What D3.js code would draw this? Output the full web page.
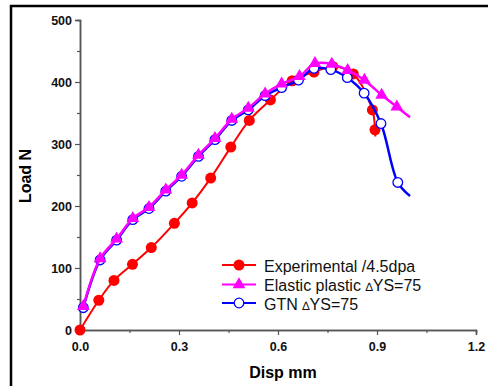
<!DOCTYPE html>
<html>
<head>
<meta charset="utf-8">
<script src="https://cdn.jsdelivr.net/npm/d3@7"></script>
<style>
  body { margin: 0; background: #fff; }
  svg { display: block; font-family: "Liberation Sans", Arial, sans-serif; }
</style>
</head>
<body>
<svg></svg>
<script>
// chart data (last point of each series is the line end, drawn without a marker)
const expX = [0, 0.057, 0.103, 0.159, 0.216, 0.286, 0.340, 0.396, 0.457, 0.513, 0.577, 0.643, 0.709, 0.766, 0.828, 0.886, 0.894, 0.895]
const expY = [0, 48, 80, 106, 133, 172, 205, 245, 295, 338, 371, 402, 416, 425, 413, 355, 323, 312]

const elasX = [0.01, 0.061, 0.111, 0.160, 0.209, 0.260, 0.308, 0.359, 0.409, 0.460, 0.510, 0.561, 0.611, 0.665, 0.712, 0.763, 0.811, 0.862, 0.914, 0.960, 1.0]
const elasY = [38, 115, 147, 180, 198, 226, 250, 282, 309, 340, 358, 381, 397, 409, 430, 429, 419, 403, 379, 360, 343]

const gtnX = [0.01, 0.061, 0.111, 0.160, 0.209, 0.260, 0.308, 0.359, 0.409, 0.460, 0.510, 0.561, 0.611, 0.662, 0.709, 0.760, 0.810, 0.861, 0.912, 0.963, 1.0]
const gtnY = [36, 113, 145, 178, 196, 224, 248, 280, 307, 338, 355, 378, 391, 403, 422, 420, 407, 382, 333, 238, 216]

const xTicks = [0, 0.3, 0.6, 0.9, 1.2]
const xMinor = [0.15, 0.45, 0.75, 1.05]
const yTicks = [0, 100, 200, 300, 400, 500]
const yMinor = [50, 150, 250, 350, 450]

const legendNames = ['Experimental /4.5dpa', 'Elastic plastic ', 'GTN ']

const width = 488
const height = 386
const plotLeft = 80
const plotRight = 476
const plotTop = 20
const plotBottom = 330

let svg = d3.select('svg').attr('width', width).attr('height', height)

let xScale = d3.scaleLinear().domain([0, 1.2]).range([plotLeft, plotRight])
let yScale = d3.scaleLinear().domain([0, 500]).range([plotBottom, plotTop])

// outer frame (only left and top edges fall inside the picture)
svg.append('path')
    .attr('d', 'M11,' + (height + 5) + 'V6H' + (width + 5))
    .attr('fill', 'none')
    .attr('stroke', '#000')
    .attr('stroke-width', 2.5)

function drawAxes() {
    let xAxis = d3.axisBottom(xScale).tickValues(xTicks).tickSize(5).tickFormat(d3.format('.1f'))
    let xAxisMinor = d3.axisBottom(xScale).tickValues(xMinor).tickSize(3).tickFormat('')
    let yAxis = d3.axisLeft(yScale).tickValues(yTicks).tickSize(5).tickFormat(d3.format('d'))
    let yAxisMinor = d3.axisLeft(yScale).tickValues(yMinor).tickSize(3).tickFormat('')

    let gx = svg.append('g').attr('transform', 'translate(0,' + plotBottom + ')')
    gx.call(xAxis)
    gx.append('g').call(xAxisMinor)
    let gy = svg.append('g').attr('transform', 'translate(' + plotLeft + ',0)')
    gy.call(yAxis)
    gy.append('g').call(yAxisMinor)

    svg.selectAll('.domain').attr('stroke', '#555').attr('stroke-width', 1.5)
    svg.selectAll('.tick line').attr('stroke', '#555').attr('stroke-width', 1.2)
    svg.selectAll('.tick text')
        .attr('font-family', '"Liberation Sans", Arial, sans-serif')
        .attr('font-size', 12.5)
        .attr('font-weight', 'bold')
        .attr('fill', '#111')
    gx.selectAll('.tick text').attr('dy', '1.05em')
    gy.selectAll('.tick text').attr('x', -8)

    svg.append('text')
        .attr('x', 283).attr('y', 378)
        .attr('text-anchor', 'middle')
        .attr('font-size', 16).attr('font-weight', 'bold')
        .text('Disp mm')
    svg.append('text')
        .attr('transform', 'translate(31,176) rotate(-90)')
        .attr('text-anchor', 'middle')
        .attr('font-size', 16).attr('font-weight', 'bold')
        .text('Load N')
}

function lineOf(xs, ys) {
    return d3.line()
        .x((d, i) => xScale(xs[i]))
        .y((d, i) => yScale(ys[i]))
        .curve(d3.curveCatmullRom)(xs)
}

const triangle = d3.symbol().type(d3.symbolTriangle).size(70)

function drawSeries() {
    // experimental
    svg.append('path').attr('d', lineOf(expX, expY))
        .attr('fill', 'none').attr('stroke', '#ff0000').attr('stroke-width', 2)
    svg.append('g').selectAll('circle')
        .data(expX.slice(0, -1))
        .enter()
        .append('circle')
        .attr('cx', (d, i) => xScale(expX[i]))
        .attr('cy', (d, i) => yScale(expY[i]))
        .attr('r', 5.5)
        .attr('fill', '#ff0000')

    // GTN
    svg.append('path').attr('d', lineOf(gtnX, gtnY))
        .attr('fill', 'none').attr('stroke', '#0000ff').attr('stroke-width', 2.5)
    svg.append('g').selectAll('circle')
        .data(gtnX.slice(0, -1))
        .enter()
        .append('circle')
        .attr('cx', (d, i) => xScale(gtnX[i]))
        .attr('cy', (d, i) => yScale(gtnY[i]))
        .attr('r', 4.8)
        .attr('fill', '#fff')
        .attr('stroke', '#0000ff')
        .attr('stroke-width', 1.3)

    // elastic plastic
    svg.append('path').attr('d', lineOf(elasX, elasY))
        .attr('fill', 'none').attr('stroke', '#ff00ff').attr('stroke-width', 2.5)
    svg.append('g').selectAll('path')
        .data(elasX.slice(0, -1))
        .enter()
        .append('path')
        .attr('d', triangle)
        .attr('transform', (d, i) => 'translate(' + xScale(elasX[i]) + ',' + yScale(elasY[i]) + ')')
        .attr('fill', '#ff00ff')
}

function drawLegend() {
    const colors = ['#ff0000', '#ff00ff', '#0000ff']
    const rowY = [265, 284.5, 303]
    let g = svg.append('g')
    legendNames.forEach((name, i) => {
        g.append('line')
            .attr('x1', 222).attr('x2', 256)
            .attr('y1', rowY[i]).attr('y2', rowY[i])
            .attr('stroke', colors[i]).attr('stroke-width', 2)
        if (i == 0) {
            g.append('circle').attr('cx', 239).attr('cy', rowY[i]).attr('r', 5.5).attr('fill', colors[i])
        } else if (i == 1) {
            g.append('path').attr('d', triangle)
                .attr('transform', 'translate(239,' + rowY[i] + ')').attr('fill', colors[i])
        } else {
            g.append('circle').attr('cx', 239).attr('cy', rowY[i]).attr('r', 4.8)
                .attr('fill', '#fff').attr('stroke', colors[i]).attr('stroke-width', 1.3)
        }
        let t = g.append('text')
            .attr('x', 264).attr('y', rowY[i] + 6.5)
            .attr('font-size', 16)
            .attr('fill', '#111')
            .text(name)
        if (i > 0) {
            t.append('tspan').attr('font-size', 12).text('\u2206')
            t.append('tspan').text('YS=75')
        }
    })
}

drawAxes()
drawSeries()
drawLegend()
</script>
</body>
</html>
